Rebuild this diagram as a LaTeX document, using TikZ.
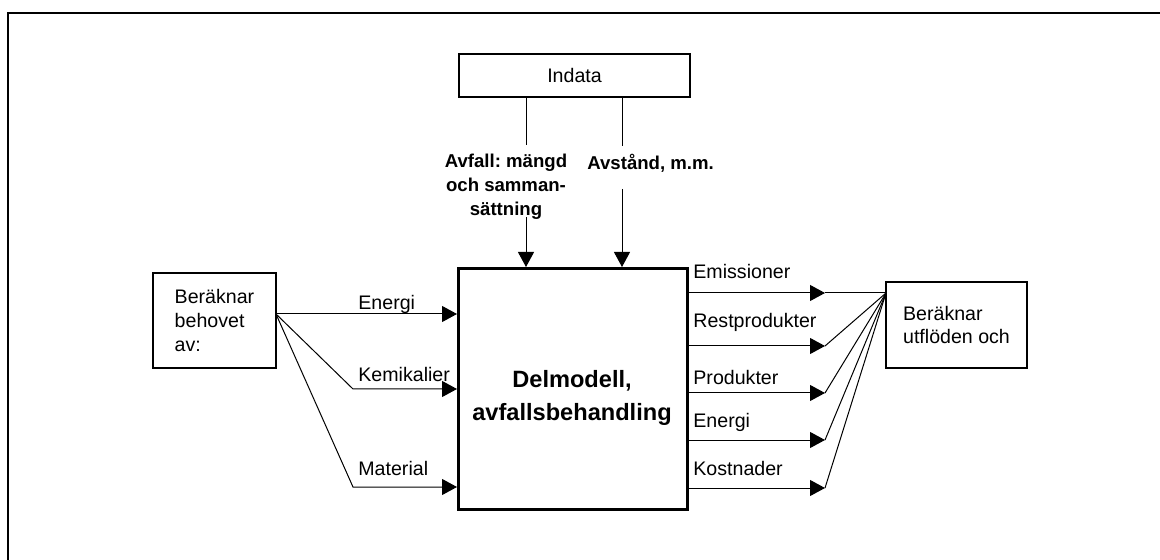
\documentclass[tikz,border=0pt]{standalone}
\usepackage{fontspec}
\setmainfont{Liberation Sans}
\frenchspacing
\usetikzlibrary{arrows.meta}
\tikzset{
  box/.style={draw,line width=1pt,inner sep=0pt,align=left,font=\fontsize{9.8}{11.8}\selectfont},
  flow/.style={line width=0.5pt},
  flowarrow/.style={line width=0.5pt,-{Triangle[length=7.5pt,width=8pt]}},
  lbl/.style={anchor=base west,inner sep=0pt,font=\fontsize{9.8}{11.8}\selectfont},
  toplbl/.style={inner sep=0pt,align=center,font=\bfseries\fontsize{9.3}{12}\selectfont},
}

\begin{document}
\begin{tikzpicture}[x=0.5pt,y=-0.5pt]
\useasboundingbox (0,0) rectangle (1160,560);
\draw[line width=1pt] (8,560) -- (8,13) -- (1160,13);

\node[box,minimum width=115.5pt,minimum height=21.5pt] (indata) at (574.5,75.5) {Indata};
\node[box,line width=1.5pt,minimum width=114.5pt,minimum height=120.5pt] (main) at (573,389) {};
\node[toplbl,font=\bfseries\fontsize{11.8}{16.5}\selectfont] (maintitle) at (572,397.5) {Delmodell,\\avfallsbehandling};
\node[box,minimum width=61.5pt,minimum height=47.5pt] (needbox) at (214.5,320.5) {Beräknar\\behovet\\av:};
\node[box,minimum width=70.5pt,minimum height=43pt] (outbox) at (956.5,325) {Beräknar\\utflöden och};

\node[toplbl] (wastelbl) at (506,187) {Avfall: mängd\\och samman-\\sättning};
\node[toplbl,anchor=base west] (distlbl) at (587,170) {Avstånd, m.m.};

\coordinate (wastetop) at (526,145);
\coordinate (wastelow) at (526,217);
\coordinate (disttop) at (622,146);
\coordinate (distlow) at (622,189);
\draw[flow] (indata.south -| wastetop) -- (wastetop);
\draw[flowarrow] (wastelow) -- (wastelow |- main.north);
\draw[flow] (indata.south -| disttop) -- (disttop);
\draw[flowarrow] (distlow) -- (distlow |- main.north);

\coordinate (lorig) at (276,314);
\coordinate (kembend) at (353,389);
\coordinate (matbend) at (353,487);
\draw[flowarrow] (lorig) -- (lorig -| main.west);
\draw[flowarrow] (lorig) -- (kembend) -- (kembend -| main.west);
\draw[flowarrow] (lorig) -- (matbend) -- (matbend -| main.west);
\node[lbl] (inenergi) at (358,310) {Energi};
\node[lbl] (inkemi) at (358,382) {Kemikalier};
\node[lbl] (inmat) at (358,475) {Material};

\coordinate (rorig) at (886,293);
\foreach \y/\n in {293/emis,346/rest,393/prod,440/ener,488/kost} {
  \coordinate (\n) at (825,\y);
  \draw[flowarrow] (\n -| main.east) -- (\n);
  \draw[flow] (rorig) -- (\n);
}
\node[lbl] (outemis) at (693,279) {Emissioner};
\node[lbl] (outrest) at (693,328) {Restprodukter};
\node[lbl] (outprod) at (693,385) {Produkter};
\node[lbl] (outener) at (693,428) {Energi};
\node[lbl] (outkost) at (693,475) {Kostnader};
\end{tikzpicture}
\end{document}
